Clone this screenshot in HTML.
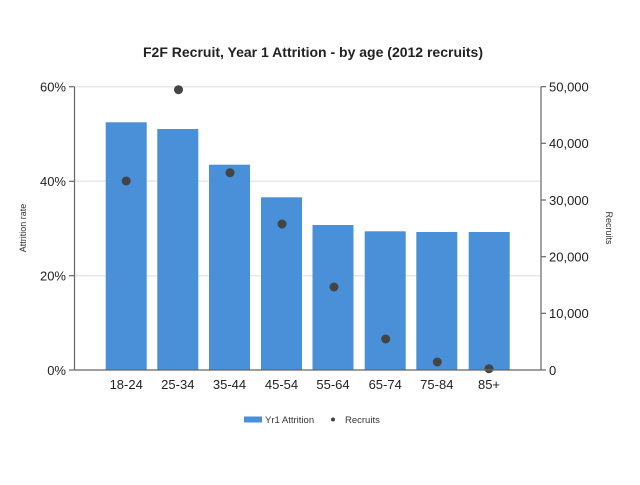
<!DOCTYPE html>
<html><head><meta charset="utf-8"><style>html,body{margin:0;padding:0;background:#fff}</style></head>
<body>
<svg width="640" height="480" viewBox="0 0 640 480" xmlns="http://www.w3.org/2000/svg" font-family="Liberation Sans, Arial, sans-serif">
<rect width="640" height="480" fill="#fff"/>
<text x="313" y="57" text-anchor="middle" font-size="14" font-weight="bold" fill="#222">F2F Recruit, Year 1 Attrition - by age (2012 recruits)</text>
<g stroke="#e8e8e8" stroke-width="1.5">
<line x1="75" y1="86.7" x2="541" y2="86.7"/>
<line x1="75" y1="181.3" x2="541" y2="181.3"/>
<line x1="75" y1="275.7" x2="541" y2="275.7"/>
</g>
<g fill="#4a90d9">
<rect x="105.7" y="122.3" width="41" height="247.7"/>
<rect x="157.3" y="129" width="41" height="241"/>
<rect x="209" y="164.7" width="41" height="205.3"/>
<rect x="261" y="197.3" width="41" height="172.7"/>
<rect x="312.5" y="225" width="41" height="145"/>
<rect x="364.7" y="231.3" width="41" height="138.7"/>
<rect x="416.3" y="232" width="41" height="138"/>
<rect x="468.7" y="232" width="41" height="138"/>
</g>
<g fill="#444">
<circle cx="126.2" cy="181" r="4.5"/>
<circle cx="178.5" cy="89.7" r="4.5"/>
<circle cx="230" cy="172.7" r="4.5"/>
<circle cx="282" cy="224" r="4.5"/>
<circle cx="334" cy="287" r="4.5"/>
<circle cx="385.7" cy="339" r="4.5"/>
<circle cx="437.3" cy="362" r="4.5"/>
<circle cx="489" cy="368.7" r="4.5"/>
</g>
<g stroke="#666" stroke-width="1.2" fill="none">
<line x1="74.5" y1="86.7" x2="74.5" y2="370"/>
<line x1="74.5" y1="370" x2="541" y2="370"/>
<line x1="541" y1="86.7" x2="541" y2="370"/>
<line x1="69" y1="86.7" x2="74.5" y2="86.7"/>
<line x1="69" y1="181.3" x2="74.5" y2="181.3"/>
<line x1="69" y1="275.7" x2="74.5" y2="275.7"/>
<line x1="69" y1="370" x2="74.5" y2="370"/>
<line x1="541" y1="86.7" x2="546" y2="86.7"/>
<line x1="541" y1="143.3" x2="546" y2="143.3"/>
<line x1="541" y1="200" x2="546" y2="200"/>
<line x1="541" y1="256.7" x2="546" y2="256.7"/>
<line x1="541" y1="313.3" x2="546" y2="313.3"/>
<line x1="541" y1="370" x2="546" y2="370"/>
</g>
<g font-size="13" fill="#222" text-anchor="end">
<text x="66" y="91.5">60%</text>
<text x="66" y="186">40%</text>
<text x="66" y="280.5">20%</text>
<text x="66" y="375">0%</text>
</g>
<g font-size="13" fill="#222">
<text x="549" y="91.5">50,000</text>
<text x="549" y="148">40,000</text>
<text x="549" y="205">30,000</text>
<text x="549" y="261.5">20,000</text>
<text x="549" y="318">10,000</text>
<text x="549" y="375">0</text>
</g>
<g font-size="13" fill="#222" text-anchor="middle">
<text x="126.2" y="389">18-24</text>
<text x="177.8" y="389">25-34</text>
<text x="229.5" y="389">35-44</text>
<text x="281.5" y="389">45-54</text>
<text x="333" y="389">55-64</text>
<text x="385.2" y="389">65-74</text>
<text x="436.8" y="389">75-84</text>
<text x="489" y="389">85+</text>
</g>
<text transform="translate(26,228) rotate(-90)" text-anchor="middle" font-size="9" fill="#333">Attrition rate</text>
<text transform="translate(606,228) rotate(90)" text-anchor="middle" font-size="9" fill="#333">Recruits</text>
<rect x="244" y="416.5" width="18" height="6" fill="#4a90d9"/>
<text x="265" y="423" font-size="9.5" fill="#333">Yr1 Attrition</text>
<circle cx="333" cy="419.5" r="2" fill="#444"/>
<text x="345" y="423" font-size="9.5" fill="#333">Recruits</text>
</svg>
</body></html>
